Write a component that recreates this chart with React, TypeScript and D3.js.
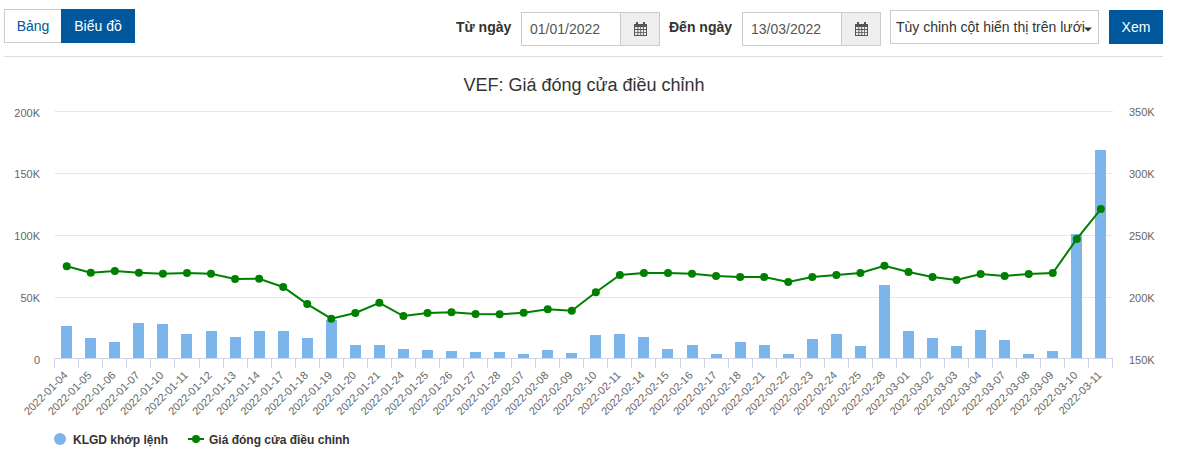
import React from "react";
import * as d3 from "d3";

const dates = ["2022-01-04","2022-01-05","2022-01-06","2022-01-07","2022-01-10","2022-01-11","2022-01-12","2022-01-13","2022-01-14","2022-01-17","2022-01-18","2022-01-19","2022-01-20","2022-01-21","2022-01-24","2022-01-25","2022-01-26","2022-01-27","2022-01-28","2022-02-07","2022-02-08","2022-02-09","2022-02-10","2022-02-11","2022-02-14","2022-02-15","2022-02-16","2022-02-17","2022-02-18","2022-02-21","2022-02-22","2022-02-23","2022-02-24","2022-02-25","2022-02-28","2022-03-01","2022-03-02","2022-03-03","2022-03-04","2022-03-07","2022-03-08","2022-03-09","2022-03-10","2022-03-11"];
const volumes = [25.9,16.2,13,28.3,27.5,19.4,21.9,17,21.9,21.9,16.2,30.8,10.5,10.5,7.3,6.5,5.7,4.9,4.9,3.2,6.5,4,18.6,19.4,17,7.3,10.5,3.2,13,10.5,3.2,15.4,19.4,9.7,59.1,21.9,16.2,9.7,22.7,14.6,3.2,5.7,100.4,168.4];
const prices = [224.5,219.3,220.7,219.3,218.5,219,218.5,214.2,214.5,207.8,194,182.2,186.8,195,184.3,186.8,187.3,186,185.7,187,189.8,188.6,203.5,217.5,219.1,219.1,218.5,216.7,215.9,215.9,211.8,215.9,217.5,219.1,225,219.9,215.9,213.4,218.3,216.7,218.3,219.1,246.6,270.8];
const leftTicks = [0,50,100,150,200];
const rightTicks = [150,200,250,300,350];
const chartTitle = "VEF: Giá đóng cửa điều chỉnh";
const volumeName = "KLGD khớp lệnh";
const priceName = "Giá đóng cửa điều chỉnh";

const FONT = "'Liberation Sans', Arial, sans-serif";
const BLUE = "#01579b";
const kLabel = (v: number) => (v === 0 ? "0" : `${v}K`);

function Calendar({ x, y }: { x: number; y: number }) {
  return (
    <g transform={`translate(${x},${y})`} fill="#555">
      <path fillRule="evenodd" d="M0 2h2V0h2v2h5V0h2v2h2v12H0z M1 5v2h2.4V5z M4.3 5v2h2V5z M7.2 5v2h2V5z M10 5v2h2V5z M1 7.9v2h2.4v-2z M4.3 7.9v2h2v-2z M7.2 7.9v2h2v-2z M10 7.9v2h2v-2z M1 10.8V13h2.4v-2.2z M4.3 10.8V13h2v-2.2z M7.2 10.8V13h2v-2.2z M10 10.8V13h2v-2.2z" />
    </g>
  );
}

function DateInput({ x, value }: { x: number; value: string }) {
  return (
    <g>
      <rect x={x + 0.5} y={12.5} width={138} height={33} fill="#fff" stroke="#ccc" />
      <rect x={x + 99.5} y={12.5} width={39} height={33} fill="#eee" stroke="#ccc" />
      <text x={x + 9} y={34} fontSize={14} fill="#555">{value}</text>
      <Calendar x={x + 113} y={22} />
    </g>
  );
}

export default function App() {
  const x = d3.scaleBand<string>().domain(dates).range([54.7, 1112.9]);
  const yL = d3.scaleLinear().domain([0, 200]).range([358, 111]);
  const yR = d3.scaleLinear().domain([150, 350]).range([358.5, 111]);
  const cx = (d: string) => x(d)! + x.bandwidth() / 2;
  const line = d3.line<number>().x((_, i) => cx(dates[i])).y((v) => yR(v));
  const barW = 11;
  const tickPositions = [...dates.map((d) => x(d)!), 1112.9];

  return (
    <svg width={1193} height={455} viewBox="0 0 1193 455" fontFamily={FONT}
      style={{ position: "absolute", left: 0, top: 0, display: "block" }}>
      {/* toolbar */}
      <rect x={4.5} y={9.5} width={57} height={33} fill="#fff" stroke="#ccc" />
      <text x={33} y={31} fontSize={14} textAnchor="middle" fill={BLUE}>Bảng</text>
      <rect x={61} y={9} width={74} height={34} fill={BLUE} />
      <text x={98} y={31} fontSize={14} textAnchor="middle" fill="#fff">Biểu đồ</text>

      <text x={456} y={32} fontSize={14} fontWeight="bold" fill="#333">Từ ngày</text>
      <DateInput x={521} value="01/01/2022" />
      <text x={669} y={32} fontSize={14} fontWeight="bold" fill="#333">Đến ngày</text>
      <DateInput x={742} value="13/03/2022" />
      <rect x={890.5} y={10.5} width={208} height={33} fill="#fff" stroke="#ccc" />
      <text x={896} y={32} fontSize={14} fill="#333">Tùy chỉnh cột hiển thị trên lưới</text>
      <path d="M1084 27.5h8l-4 4z" fill="#333" />
      <rect x={1109} y={10} width={54} height={34} fill={BLUE} />
      <text x={1136} y={32} fontSize={14} textAnchor="middle" fill="#fff">Xem</text>
      <line x1={4} x2={1163} y1={56.5} y2={56.5} stroke="#ddd" />

      {/* title */}
      <text x={584} y={91} fontSize={18} textAnchor="middle" fill="#333">{chartTitle}</text>

      {/* grid */}
      {leftTicks.slice(1).map((t) => (
        <line key={t} x1={54.7} x2={1112.9} y1={Math.ceil(yL(t)) + 0.5} y2={Math.ceil(yL(t)) + 0.5} stroke="#e6e6e6" />
      ))}

      {/* left axis */}
      {leftTicks.map((t) => (
        <text key={t} x={40} y={yL(t) + 5.5} fontSize={11} textAnchor="end" fill="#666">{kLabel(t)}</text>
      ))}
      {/* right axis */}
      {rightTicks.map((t) => (
        <text key={t} x={1129} y={yR(t) + 5} fontSize={11} textAnchor="start" fill="#666">{kLabel(t)}</text>
      ))}

      {/* bars */}
      {dates.map((d, i) => {
        const top = Math.round(yL(volumes[i]));
        return <rect key={d} x={Math.round(cx(d) - barW / 2)} y={top} width={barW} height={358 - top} fill="#7cb5ec" />;
      })}

      {/* x axis */}
      <line x1={54.7} x2={1112.9} y1={358.5} y2={358.5} stroke="#ccd6eb" />
      {tickPositions.map((p, i) => (
        <line key={i} x1={Math.floor(p) + 0.5} x2={Math.floor(p) + 0.5} y1={358} y2={368} stroke="#ccd6eb" />
      ))}
      {dates.map((d) => (
        <text key={d} transform={`translate(${cx(d) + 1.5},${376}) rotate(-45)`} fontSize={11} textAnchor="end" fill="#666">{d}</text>
      ))}

      {/* line */}
      <path d={line(prices)!} fill="none" stroke="#008000" strokeWidth={2} />
      {prices.map((v, i) => (
        <circle key={dates[i]} cx={cx(dates[i])} cy={yR(v)} r={4} fill="#008000" />
      ))}

      {/* legend */}
      <circle cx={60} cy={439} r={6} fill="#7cb5ec" />
      <text x={73} y={443.5} fontSize={12} fontWeight="bold" fill="#333">{volumeName}</text>
      <line x1={188} x2={204} y1={439} y2={439} stroke="#008000" strokeWidth={2} />
      <circle cx={196} cy={439} r={4} fill="#008000" />
      <text x={209} y={443.5} fontSize={12} fontWeight="bold" fill="#333">{priceName}</text>
    </svg>
  );
}
